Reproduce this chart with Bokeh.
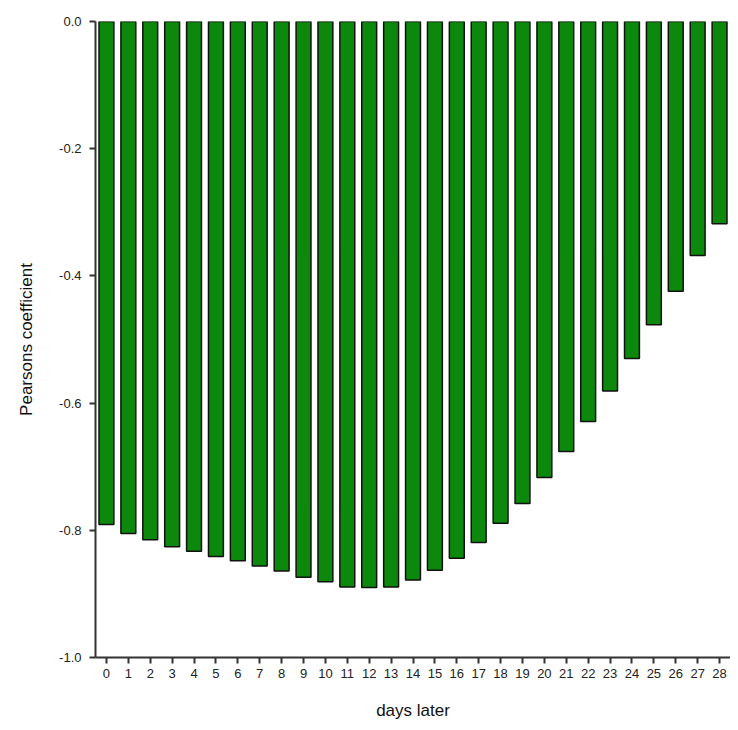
from bokeh.plotting import figure
from bokeh.models import FixedTicker, ColumnDataSource, CustomJSTickFormatter
from bokeh.embed import file_html
from bokeh.resources import INLINE

days = list(range(29))
pearson = [-0.791, -0.805, -0.815, -0.826, -0.833, -0.841, -0.848, -0.856, -0.864, -0.874,
           -0.881, -0.889, -0.890, -0.889, -0.878, -0.863, -0.844, -0.819, -0.789, -0.758,
           -0.717, -0.676, -0.629, -0.581, -0.530, -0.477, -0.424, -0.368, -0.318]
y_ticks = [-1.0, -0.8, -0.6, -0.4, -0.2, 0.0]

src = ColumnDataSource(dict(x=days, y=pearson))

p = figure(width=730, height=722, x_range=(-0.5, 28.5), y_range=(-1.0, 0.0),
           output_backend="svg", toolbar_location=None,
           min_border_left=95, min_border_right=0, min_border_top=21, min_border_bottom=62)
p.outline_line_color = None
p.xgrid.visible = False
p.ygrid.visible = False

p.vbar(x="x", top=0, bottom="y", width=0.68, source=src,
       fill_color="#0c880c", line_color="#111111", line_width=1.5)

font = "Liberation Sans"
p.yaxis.ticker = FixedTicker(ticks=y_ticks)
p.yaxis.formatter = CustomJSTickFormatter(code="return tick.toFixed(1);")
p.xaxis.ticker = FixedTicker(ticks=days)

for ax in (p.xaxis, p.yaxis):
    ax.axis_line_color = "#333333"
    ax.axis_line_width = 2
    ax.major_tick_line_color = "#333333"
    ax.major_tick_line_width = 2
    ax.major_tick_out = 6
    ax.major_tick_in = 0
    ax.minor_tick_out = 0
    ax.minor_tick_in = 0
    ax.major_label_text_font = font
    ax.major_label_text_font_size = "13px"
    ax.major_label_text_color = "#222222"
    ax.axis_label_text_font = font
    ax.axis_label_text_font_size = "17px"
    ax.axis_label_text_font_style = "normal"
    ax.axis_label_text_color = "#111111"

p.yaxis.axis_label = "Pearsons coefficient"
p.xaxis.axis_label = "days later"
p.yaxis.major_label_standoff = 8
p.xaxis.major_label_standoff = 5
p.yaxis.axis_label_standoff = 20
p.xaxis.axis_label_standoff = 20

open("out.html", "w").write(file_html(p, INLINE))
